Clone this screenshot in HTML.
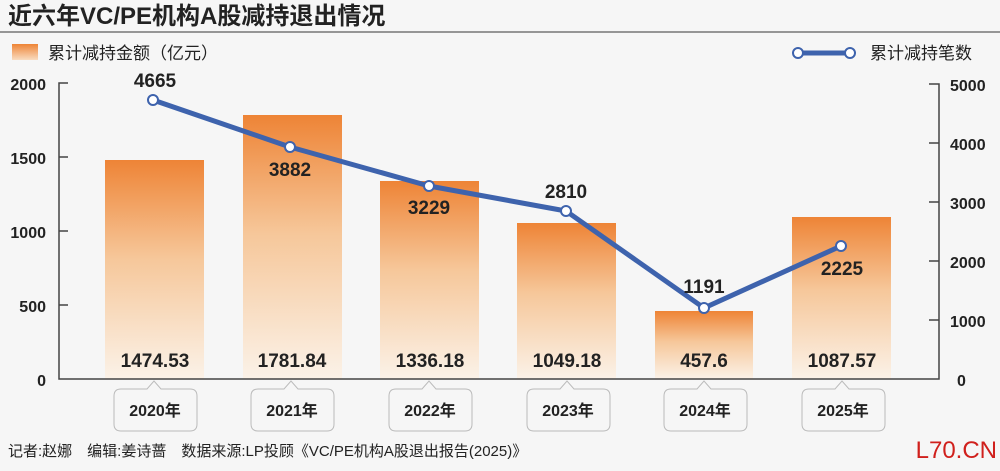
<!DOCTYPE html>
<html><head><meta charset="utf-8"><style>
body{margin:0;background:#f6f6f6;}
svg text{font-family:"Liberation Sans","Noto Sans CJK SC",sans-serif;}
</style></head><body>
<svg width="1000" height="466" viewBox="0 0 1000 466" xmlns="http://www.w3.org/2000/svg">
<defs>
<linearGradient id="g" x1="0" y1="0" x2="0" y2="1">
<stop offset="0" stop-color="#ee8436"/><stop offset="0.45" stop-color="#f6c79a"/><stop offset="1" stop-color="#fbf2e8"/>
</linearGradient>
<linearGradient id="lg" x1="0" y1="0" x2="0" y2="1">
<stop offset="0" stop-color="#ee8436"/><stop offset="1" stop-color="#f9dcc0"/>
</linearGradient>
</defs>
<rect width="1000" height="466" fill="#f6f6f6"/>
<text x="8" y="24" font-size="24" font-weight="bold" fill="#222">近六年VC/PE机构A股减持退出情况</text>
<line x1="0" y1="32" x2="1000" y2="32" stroke="#777" stroke-width="1.5"/>
<rect x="12" y="44" width="26" height="16" fill="url(#lg)"/>
<text x="48" y="59" font-size="17" fill="#222">累计减持金额（亿元）</text>
<line x1="798" y1="53" x2="850" y2="53" stroke="#3e63ad" stroke-width="5"/>
<circle cx="798" cy="53" r="5" fill="#fff" stroke="#3e63ad" stroke-width="2"/>
<circle cx="850" cy="53" r="5" fill="#fff" stroke="#3e63ad" stroke-width="2"/>
<text x="870" y="59" font-size="17" fill="#222">累计减持笔数</text>
<!-- bars -->
<g fill="url(#g)">
<rect x="105" y="160" width="99" height="219"/>
<rect x="243" y="115" width="99" height="264"/>
<rect x="380" y="181" width="99" height="198"/>
<rect x="517" y="223" width="99" height="156"/>
<rect x="655" y="311" width="98" height="68"/>
<rect x="792" y="217" width="99" height="162"/>
</g>
<!-- axes -->
<g stroke="#444" stroke-width="1.5" fill="none">
<polyline points="68,83 59,83 59,379 939,379 939,84 929,84"/>
<line x1="59" y1="157" x2="68" y2="157"/><line x1="59" y1="231" x2="68" y2="231"/><line x1="59" y1="305" x2="68" y2="305"/>
<line x1="929" y1="143" x2="939" y2="143"/><line x1="929" y1="202" x2="939" y2="202"/><line x1="929" y1="261" x2="939" y2="261"/><line x1="929" y1="320" x2="939" y2="320"/>
</g>
<g font-size="16" font-weight="bold" fill="#222" text-anchor="end">
<text x="46" y="90">2000</text><text x="46" y="164">1500</text><text x="46" y="238">1000</text><text x="46" y="312">500</text><text x="46" y="386">0</text>
</g>
<g font-size="16" font-weight="bold" fill="#222">
<text x="950" y="91">5000</text><text x="950" y="150">4000</text><text x="950" y="209">3000</text><text x="950" y="268">2000</text><text x="950" y="327">1000</text><text x="957" y="386">0</text>
</g>
<!-- bar value labels -->
<g font-size="19" font-weight="bold" fill="#222" text-anchor="middle">
<text x="155" y="367">1474.53</text><text x="292" y="367">1781.84</text><text x="430" y="367">1336.18</text><text x="567" y="367">1049.18</text><text x="704" y="367">457.6</text><text x="842" y="367">1087.57</text>
</g>
<!-- line -->
<polyline points="153,100 290,147 429,186 566,211 704,308 841,246" fill="none" stroke="#3e63ad" stroke-width="5" stroke-linejoin="round"/>
<g fill="#fff" stroke="#3e63ad" stroke-width="2">
<circle cx="153" cy="100" r="5"/><circle cx="290" cy="147" r="5"/><circle cx="429" cy="186" r="5"/><circle cx="566" cy="211" r="5"/><circle cx="704" cy="308" r="5"/><circle cx="841" cy="246" r="5"/>
</g>
<g font-size="19" font-weight="bold" fill="#222" text-anchor="middle">
<text x="155" y="87">4665</text><text x="290" y="176">3882</text><text x="429" y="214">3229</text><text x="566" y="198">2810</text><text x="704" y="293">1191</text><text x="842" y="275">2225</text>
</g>
<!-- year callouts -->
<g fill="#f6f6f6" stroke="#bbb" stroke-width="1">
<path d="M121,389 H147 L154,381 L161,389 H190 Q197,389 197,396 V424 Q197,431 190,431 H121 Q114,431 114,424 V396 Q114,389 121,389Z"/>
<path d="M258,389 H284 L291,381 L298,389 H327 Q334,389 334,396 V424 Q334,431 327,431 H258 Q251,431 251,424 V396 Q251,389 258,389Z"/>
<path d="M396,389 H422 L429,381 L436,389 H465 Q472,389 472,396 V424 Q472,431 465,431 H396 Q389,431 389,424 V396 Q389,389 396,389Z"/>
<path d="M534,389 H560 L567,381 L574,389 H603 Q610,389 610,396 V424 Q610,431 603,431 H534 Q527,431 527,424 V396 Q527,389 534,389Z"/>
<path d="M671,389 H697 L704,381 L711,389 H740 Q747,389 747,396 V424 Q747,431 740,431 H671 Q664,431 664,424 V396 Q664,389 671,389Z"/>
<path d="M809,389 H835 L842,381 L849,389 H878 Q885,389 885,396 V424 Q885,431 878,431 H809 Q802,431 802,424 V396 Q802,389 809,389Z"/>
</g>
<g font-size="16" font-weight="bold" fill="#222" text-anchor="middle">
<text x="155" y="416">2020年</text><text x="292" y="416">2021年</text><text x="430" y="416">2022年</text><text x="568" y="416">2023年</text><text x="705" y="416">2024年</text><text x="843" y="416">2025年</text>
</g>
<text x="8" y="456" font-size="15" fill="#222">记者:赵娜　编辑:姜诗蔷　数据来源:LP投顾《VC/PE机构A股退出报告(2025)》</text>
<text x="997" y="458" font-size="24" fill="#d0201c" text-anchor="end">L70.CN</text>
</svg>
</body></html>
